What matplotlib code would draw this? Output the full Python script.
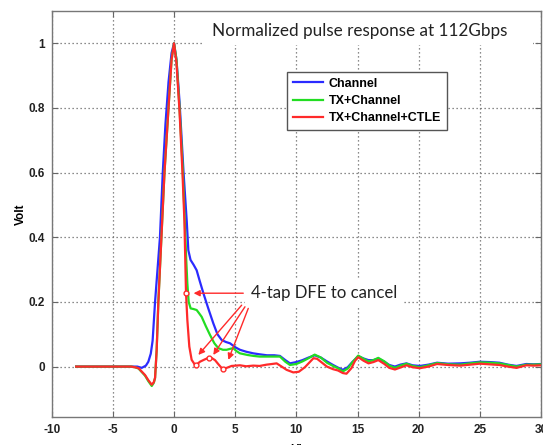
import numpy as np
import matplotlib
matplotlib.use("Agg")
import matplotlib.pyplot as plt
from matplotlib.patches import Rectangle

# --- data (UI vs normalized volt) ---
ch_x = [-8, -3.5, -3.0, -2.64, -2.3, -2.1, -1.9, -1.75, -1.55, -1.35, -1.15, -0.92, -0.7,
        -0.45, -0.2, 0.0, 0.2, 0.45, 0.78, 1.04, 1.17, 1.35, 1.6, 1.85, 2.1, 2.4, 2.8, 3.21,
        3.55, 3.9, 4.25, 4.58, 5.0, 5.39, 5.9, 6.48, 7.0, 7.6, 8.2, 8.66, 9.1, 9.48, 10.0,
        10.5, 11.0, 11.5, 12.0, 12.5, 13.0, 13.4, 13.8, 14.2, 14.6, 15.06, 15.5, 15.9, 16.3,
        16.7, 17.2, 17.6, 18.06, 18.5, 19.0, 19.5, 20.1, 20.8, 21.5, 22.4, 23.4, 24.2, 25.0,
        25.8, 26.6, 27.3, 28.0, 28.8, 29.4, 30.0]
ch_y = [0, 0, 0, -0.004, 0.003, 0.015, 0.04, 0.08, 0.2, 0.3, 0.4, 0.6, 0.75,
        0.88, 0.97, 1.0, 0.95, 0.82, 0.6, 0.45, 0.36, 0.33, 0.315, 0.298, 0.265, 0.227, 0.18, 0.134,
        0.1, 0.082, 0.076, 0.072, 0.06, 0.052, 0.046, 0.041, 0.038, 0.035, 0.035, 0.033, 0.02, 0.01, 0.014,
        0.02, 0.028, 0.035, 0.028, 0.016, 0.005, -0.003, -0.01, -0.002, 0.015, 0.032, 0.025, 0.02, 0.02,
        0.025, 0.015, 0.005, 0.0, 0.006, 0.01, 0.004, 0.002, 0.006, 0.012, 0.009, 0.01, 0.012, 0.015,
        0.014, 0.012, 0.006, 0.002, 0.008, 0.007, 0.008]

tx_x = [-8, -3.5, -3.2, -2.9, -2.37, -2.1, -1.82, -1.65, -1.55, -1.42, -1.28, -1.03, -0.78,
        -0.45, -0.2, 0.0, 0.2, 0.45, 0.7, 0.88, 1.0, 1.09, 1.2, 1.36, 1.6, 1.85, 2.05, 2.26,
        2.6, 2.94, 3.3, 3.62, 4.0, 4.3, 4.6, 4.85, 5.1, 5.39, 6.0, 6.5, 7.0, 7.57, 8.2, 8.66,
        9.1, 9.48, 10.0, 10.5, 11.0, 11.5, 12.0, 12.5, 13.0, 13.4, 13.8, 14.2, 14.6, 15.06,
        15.5, 15.9, 16.3, 16.7, 17.2, 17.6, 18.06, 18.5, 19.0, 19.5, 20.1, 20.8, 21.5, 22.4,
        23.4, 24.2, 25.0, 25.8, 26.6, 27.3, 28.0, 28.8, 29.4, 30.0]
tx_y = [0, 0, -0.002, -0.006, -0.028, -0.045, -0.06, -0.05, -0.035, 0.05, 0.2, 0.4, 0.6,
        0.8, 0.95, 1.0, 0.95, 0.8, 0.62, 0.45, 0.33, 0.257, 0.2, 0.18, 0.178, 0.175, 0.165, 0.154,
        0.125, 0.098, 0.072, 0.057, 0.052, 0.052, 0.055, 0.057, 0.048, 0.041, 0.036, 0.033, 0.031, 0.031, 0.031, 0.031,
        0.015, 0.005, 0.008, 0.016, 0.026, 0.037, 0.028, 0.012, 0.002, -0.005, -0.015, -0.006, 0.014, 0.034,
        0.024, 0.016, 0.02, 0.027, 0.016, 0.003, -0.004, 0.003, 0.009, 0.002, -0.002, 0.004, 0.011, 0.007,
        0.006, 0.01, 0.013, 0.012, 0.01, 0.005, 0.0, 0.006, 0.006, 0.007]

ctle_x = [-8, -3.5, -3.2, -2.9, -2.37, -2.1, -1.82, -1.65, -1.55, -1.42, -1.28, -1.03, -0.78,
          -0.45, -0.2, 0.0, 0.2, 0.45, 0.69, 0.85, 0.98, 1.09, 1.25, 1.44, 1.72, 1.85, 2.12, 2.5,
          2.87, 3.1, 3.35, 3.7, 3.98, 4.3, 4.71, 5.39, 5.9, 6.48, 7.0, 7.57, 8.0, 8.39, 8.8, 9.2,
          9.75, 10.2, 10.7, 11.0, 11.4, 11.7, 12.1, 12.5, 13.0, 13.4, 13.8, 14.1, 14.5, 14.8,
          15.06, 15.5, 15.9, 16.3, 16.7, 17.2, 17.6, 18.06, 18.5, 19.0, 19.5, 20.1, 20.8, 21.5,
          22.4, 23.4, 24.2, 25.0, 25.8, 26.6, 27.3, 28.0, 28.8, 29.4, 30.0]
ctle_y = [0, 0, -0.002, -0.005, -0.026, -0.042, -0.056, -0.048, -0.035, 0.05, 0.2, 0.4, 0.6,
          0.8, 0.95, 1.0, 0.94, 0.79, 0.6, 0.45, 0.227, 0.144, 0.062, 0.021, 0.005, 0.006, 0.015, 0.022,
          0.028, 0.026, 0.02, 0.004, -0.008, -0.004, 0.002, 0.004, 0.001, 0.003, 0.002, 0.006, 0.008, 0.01, 0.0, -0.01,
          -0.018, -0.016, -0.002, 0.01, 0.026, 0.024, 0.012, 0.0, -0.008, -0.012, -0.02, -0.022, -0.005, 0.018,
          0.029, 0.018, 0.01, 0.014, 0.02, 0.008, -0.004, -0.009, -0.003, 0.004, -0.002, -0.005, 0.0, 0.008,
          0.005, 0.003, 0.006, 0.009, 0.007, 0.005, 0.0, -0.004, 0.004, 0.003, 0.004]

# DFE tap points on the red curve
tap_x = [0.98, 1.8, 2.87, 3.98]
tap_y = [0.227, 0.005, 0.028, -0.008]

xticks = [-10, -5, 0, 5, 10, 15, 20, 25, 30]
yticks = [0, 0.2, 0.4, 0.6, 0.8, 1]

fig = plt.figure(figsize=(5.43, 4.45), dpi=100)
ax = fig.add_axes([0.0952, 0.0636, 0.9011, 0.9117])

ax.plot(ch_x, ch_y, color="#2b2bff", lw=1.6, label="Channel", zorder=3)
ax.plot(tx_x, tx_y, color="#22dd22", lw=1.6, label="TX+Channel", zorder=4)
ax.plot(ctle_x, ctle_y, color="#ff2a2a", lw=1.6, label="TX+Channel+CTLE", zorder=5)

ax.set_xlim(-10, 30)
ax.set_ylim(-0.155, 1.1)
ax.set_xticks(xticks)
ax.set_yticks(yticks)
ax.set_xticklabels([str(t) for t in xticks])
ax.set_yticklabels(["0", "0.2", "0.4", "0.6", "0.8", "1"])
ax.tick_params(direction="in", length=4, width=0.8, color="#666666",
               top=True, right=True, labelsize=8.5, pad=5, labelcolor="#222222")
for lab in ax.get_xticklabels() + ax.get_yticklabels():
    lab.set_fontweight("bold")
    lab.set_family("Liberation Sans")
for s in ax.spines.values():
    s.set_color("#777777")
    s.set_linewidth(1.0)
ax.grid(True, color="#666666", linestyle=(0, (1, 2.2)), linewidth=0.9, zorder=1)
ax.set_axisbelow(True)

ax.set_ylabel("Volt", fontsize=8.5, fontweight="bold", family="Liberation Sans", labelpad=1)
ax.set_xlabel("UI", fontsize=8.5, fontweight="bold", family="Liberation Sans", labelpad=6)

# white patch behind title text (hides grid as in the reference)
ax.add_patch(Rectangle((0.307, 0.916), 0.677, 0.082, transform=ax.transAxes,
                       facecolor="white", edgecolor="none", zorder=2))
ax.text(15.15, 1.039, "Normalized pulse response at 112Gbps", fontsize=12.3, family="Lato",
        ha="center", va="center", color="#222222", zorder=6)

# DFE annotation
ax.text(6.27, 0.227, "4-tap DFE to cancel", fontsize=12.1, family="Lato", ha="left",
        va="center", color="#222222", zorder=6,
        bbox=dict(facecolor="white", edgecolor="none", pad=4))
arrow = dict(arrowstyle="-|>", color="#ff2a2a", lw=1.0, mutation_scale=9,
             shrinkA=0, shrinkB=0)
ax.annotate("", xy=(1.6, 0.227), xytext=(5.66, 0.227), arrowprops=arrow, zorder=7)
ax.annotate("", xy=(1.99, 0.036), xytext=(5.53, 0.19), arrowprops=arrow, zorder=7)
ax.annotate("", xy=(3.21, 0.036), xytext=(5.8, 0.185), arrowprops=arrow, zorder=7)
ax.annotate("", xy=(4.44, 0.021), xytext=(6.07, 0.18), arrowprops=arrow, zorder=7)
ax.plot(tap_x, tap_y, linestyle="none", marker="o", ms=3.5, mfc="white",
        mec="#ff2a2a", mew=1.0, zorder=8)

leg = ax.legend(loc="upper left", bbox_to_anchor=(287 / 543, 1 - 72 / 445),
                bbox_transform=fig.transFigure, borderaxespad=0, fancybox=False,
                framealpha=1, edgecolor="#555555", handlelength=2.45, handletextpad=0.42,
                labelspacing=0.42, borderpad=0.45,
                prop={"family": "Liberation Sans", "weight": "bold", "size": 9})
leg.get_frame().set_linewidth(1.0)
leg.set_zorder(9)

fig.savefig("out.png", dpi=100)
